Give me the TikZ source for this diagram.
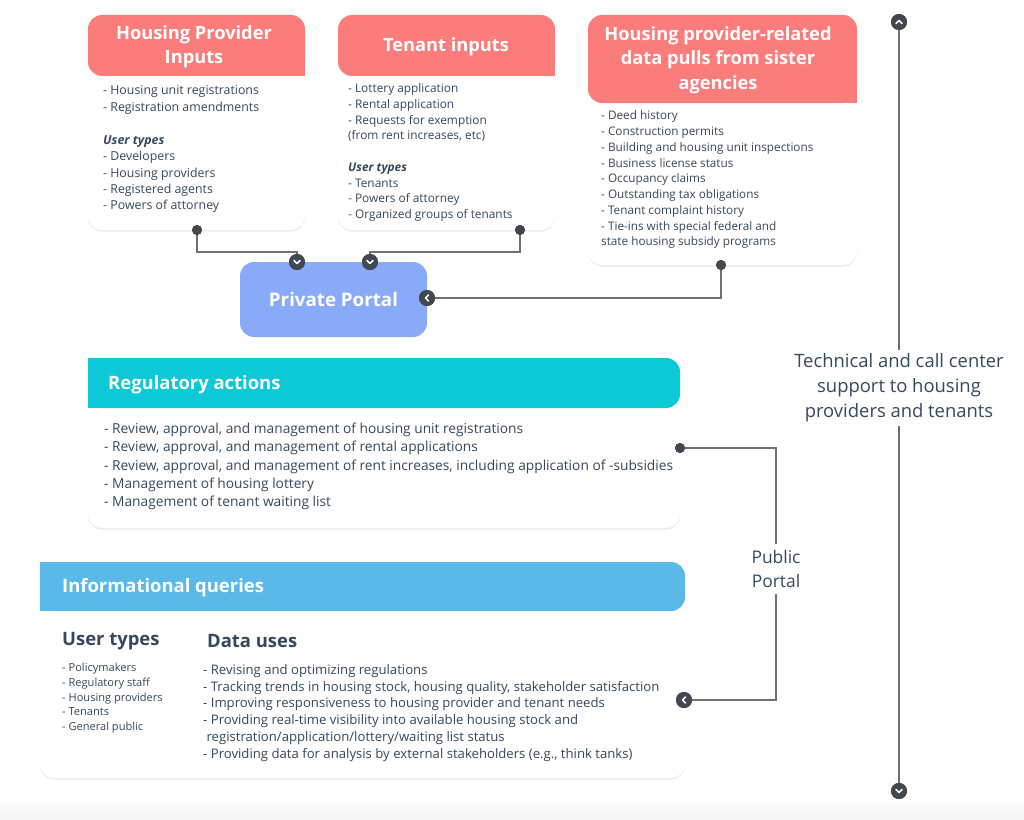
\documentclass[tikz,border=0pt]{standalone}
\usepackage{fontspec}
\setmainfont{Open Sans}
\usetikzlibrary{shadows}

\definecolor{hdred}{RGB}{250,125,124}
\definecolor{hdteal}{RGB}{13,200,213}
\definecolor{hdsky}{RGB}{90,185,231}
\definecolor{portalblue}{RGB}{137,170,248}
\definecolor{txt}{RGB}{52,73,94}
\definecolor{wire}{RGB}{112,112,112}
\definecolor{knob}{RGB}{65,72,80}

\begin{document}
\begin{tikzpicture}[x=1bp,y=-1bp,
    card/.style={fill=white, rounded corners=14bp,
      drop shadow={shadow xshift=0bp, shadow yshift=-1.5bp, opacity=.08, fill=black}},
    hdtitle/.style={text=white, font=\bfseries\fontsize{18.3}{24.5}\selectfont, align=center, inner sep=0},
    lefttitle/.style={text=white, font=\bfseries\fontsize{18.5}{24}\selectfont, anchor=west, inner sep=0},
    body/.style={text=txt, align=left, anchor=north west, inner sep=0},
    conn/.style={draw=wire, line width=1.8bp},
    dot/.style={circle, fill=knob, inner sep=0, minimum size=10bp},
    chev/.style={circle, fill=knob, inner sep=0, minimum size=16bp},
    chevline/.style={white, line width=1.6bp, line cap=round, line join=round},
    side/.style={text=txt, align=center, inner sep=6bp}]

    \useasboundingbox (0,0) rectangle (1024,820);
    \shade[top color=white, bottom color=black!4] (0,796) rectangle (1024,820);

    %tarjetas
    \path[card] (88,15) rectangle (305,230);
    \path[card] (338,15) rectangle (555,230);
    \path[card] (588,15) rectangle (857,265);
    \path[card] (88,358) rectangle (680,528);
    \path[card] (40,562) rectangle (685,778);

    %encabezados
    \fill[hdred, rounded corners=14bp] (88,15) rectangle (305,76);
    \fill[hdred] (285,56) rectangle (305,76);
    \fill[hdred, rounded corners=14bp] (338,15) rectangle (555,76);
    \fill[hdred] (535,56) rectangle (555,76);
    \fill[hdred, rounded corners=14bp] (588,15) rectangle (857,103);
    \fill[hdred] (837,83) rectangle (857,103);
    \fill[hdteal, rounded corners=14bp] (88,358) rectangle (680,408);
    \fill[hdteal] (88,358) rectangle (108,408);
    \fill[hdsky, rounded corners=14bp] (40,562) rectangle (685,611);
    \fill[hdsky] (40,562) rectangle (60,611);

    %titulos
    \node[hdtitle] (hptitle) at (194,47) {Housing Provider\\Inputs};
    \node[hdtitle] (tntitle) at (446,47) {Tenant inputs};
    \node[hdtitle] (sistitle) at (718,60) {Housing provider-related\\data pulls from sister\\agencies};
    \node[lefttitle] (regtitle) at (108,385) {Regulatory actions};
    \node[lefttitle] (qrytitle) at (62,588) {Informational queries};

    %listas
    \node[body, font=\fontsize{12.4}{16.5}\selectfont] (hplist) at (103,85.5) {- Housing unit registrations\\
      - Registration amendments\\[16.5bp]
      \textbf{\textit{User types}}\\
      - Developers\\
      - Housing providers\\
      - Registered agents\\
      - Powers of attorney};
    \node[body, font=\fontsize{11.9}{15.75}\selectfont] (tnlist) at (348,83.7) {- Lottery application\\
      - Rental application\\
      - Requests for exemption\\
      (from rent increases, etc)\\[15.75bp]
      \textbf{\textit{User types}}\\
      - Tenants\\
      - Powers of attorney\\
      - Organized groups of tenants};
    \node[body, font=\fontsize{11.8}{15.8}\selectfont] (sislist) at (601,110.8) {- Deed history\\
      - Construction permits\\
      - Building and housing unit inspections\\
      - Business license status\\
      - Occupancy claims\\
      - Outstanding tax obligations\\
      - Tenant complaint history\\
      - Tie-ins with special federal and\\
      state housing subsidy programs};
    \node[body, font=\fontsize{13.8}{18.3}\selectfont] (reglist) at (104,423) {- Review, approval, and management of housing unit registrations\\
      - Review, approval, and management of rental applications\\
      - Review, approval, and management of rent increases, including application of -subsidies\\
      - Management of housing lottery\\
      - Management of tenant waiting list};
    \node[body, font=\bfseries\fontsize{18.5}{22}\selectfont, anchor=west] (usrhead) at (62,641) {User types};
    \node[body, font=\bfseries\fontsize{18.5}{22}\selectfont, anchor=west] (usehead) at (207,641) {Data uses};
    \node[body, font=\fontsize{11.1}{14.8}\selectfont] (usrlist) at (62,663) {- Policymakers\\
      - Regulatory staff\\
      - Housing providers\\
      - Tenants\\
      - General public};
    \node[body, font=\fontsize{13.2}{16.8}\selectfont] (uselist) at (203,664.2) {- Revising and optimizing regulations\\
      - Tracking trends in housing stock, housing quality, stakeholder satisfaction\\
      - Improving responsiveness to housing provider and tenant needs\\
      - Providing real-time visibility into available housing stock and\\
      \ registration/application/lottery/waiting list status\\
      - Providing data for analysis by external stakeholders (e.g., think tanks)};

    %portal privado
    \node[fill=portalblue, rounded corners=14bp, minimum width=187bp, minimum height=75bp,
      text=white, font=\bfseries\fontsize{18.8}{22}\selectfont] (portal) at (333.5,299.5) {Private Portal};

    %puntos y conectores
    \node[dot] (hpdot) at (197,230) {};
    \node[dot] (tndot) at (520,230) {};
    \node[dot] (sisdot) at (721,265) {};
    \node[dot] (regdot) at (680,448) {};
    \node[chev] (ppin1) at (297,262) {};
    \node[chev] (ppin2) at (370,262) {};
    \node[chev] (ppin3) at (427,298) {};
    \node[chev] (qryin) at (684,700) {};
    \node[chev] (suptop) at (899,22) {};
    \node[chev] (supbot) at (899,791) {};

    \node[side, font=\fontsize{17.5}{24}\selectfont] (pub) at (776,569) {Public\\Portal};
    \node[side, font=\fontsize{18.5}{25}\selectfont, inner sep=4bp] (sup) at (899,388) {Technical and call center\\support to housing\\providers and tenants};

    \draw[conn] (hpdot) -- ++(0,22) -| (ppin1);
    \draw[conn] (tndot) -- ++(0,22) -| (ppin2);
    \draw[conn] (sisdot) |- (ppin3);
    \draw[conn] (regdot) -| (pub.north);
    \draw[conn] (pub.south) |- (qryin);
    \draw[conn, line width=2.6bp] (suptop) -- (sup.north);
    \draw[conn, line width=2.6bp] (sup.south) -- (supbot);

    %redibujar puntos encima
    \foreach \n in {hpdot,tndot,sisdot,regdot}
      \fill[knob] (\n) circle (5bp);
    \foreach \n in {ppin1,ppin2,ppin3,qryin,suptop,supbot}
      \fill[knob] (\n) circle (8bp);

    %flechas
    \foreach \n in {ppin1,ppin2,supbot}
      \draw[chevline] ([shift={(-3,-1.5)}]\n.center) -- ++(3,3) -- ++(3,-3);
    \foreach \n in {ppin3,qryin}
      \draw[chevline] ([shift={(1.5,-3)}]\n.center) -- ++(-3,3) -- ++(3,3);
    \draw[chevline] ([shift={(-3,1.5)}]suptop.center) -- ++(3,-3) -- ++(3,3);
\end{tikzpicture}
\end{document}
